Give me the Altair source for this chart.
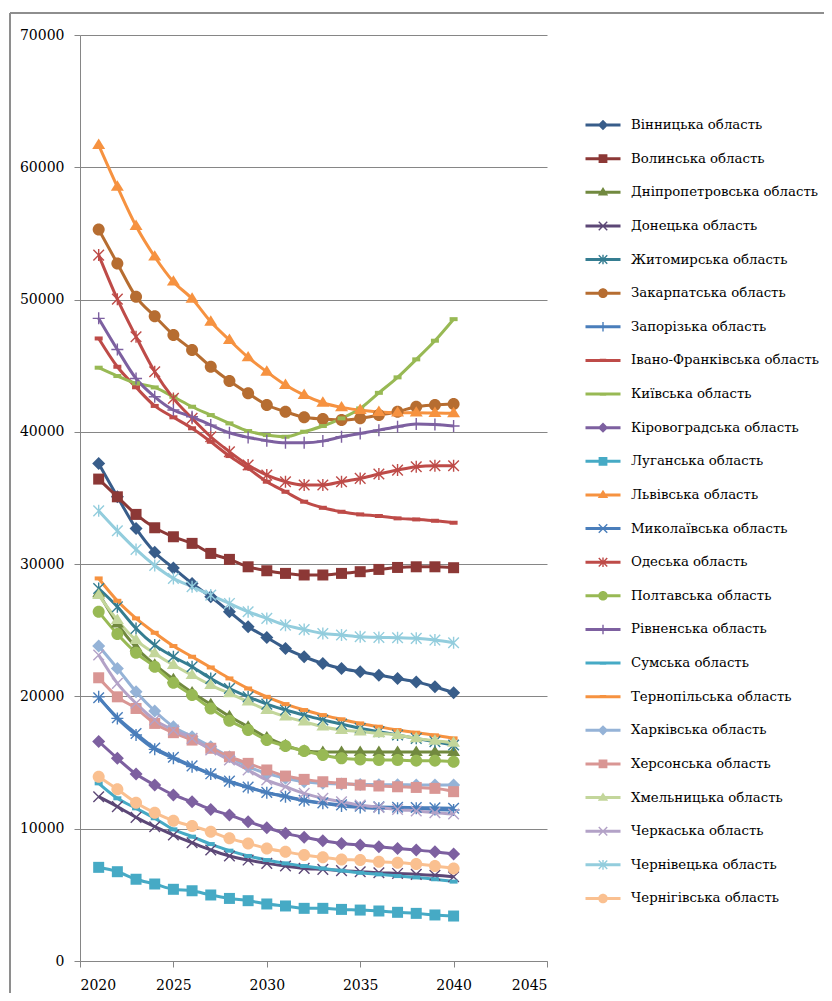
import math
import altair as alt
import pandas as pd

years = list(range(2021, 2041))

regions = [
    "Вінницька область", "Волинська область", "Дніпропетровська область",
    "Донецька область", "Житомирська область", "Закарпатська область",
    "Запорізька область", "Івано-Франківська область", "Київська область",
    "Кіровоградська область", "Луганська область", "Львівська область",
    "Миколаївська область", "Одеська область", "Полтавська область",
    "Рівненська область", "Сумська область", "Тернопільська область",
    "Харківська область", "Херсонська область", "Хмельницька область",
    "Черкаська область", "Чернівецька область", "Чернігівська область",
]

vinnytsia = [37600, 35100, 32700, 30900, 29700, 28540, 27530, 26400, 25270, 24460,
             23630, 23000, 22490, 22110, 21860, 21610, 21360, 21100, 20730, 20280]
volyn = [36430, 35090, 33760, 32750, 32070, 31570, 30810, 30360, 29800, 29500,
         29300, 29180, 29180, 29300, 29430, 29600, 29750, 29800, 29800, 29730]
dnipro = [27800, 25500, 23700, 22400, 21300, 20300, 19400, 18500, 17700, 16900,
          16300, 15900, 15800, 15800, 15800, 15800, 15800, 15800, 15800, 15800]
donetsk = [12420, 11670, 10860, 10150, 9520, 8940, 8390, 7940, 7630, 7380,
           7180, 7000, 6930, 6830, 6750, 6670, 6620, 6550, 6480, 6370]
zhytomyr = [28160, 26780, 25140, 23880, 23000, 22240, 21360, 20600, 19970, 19420,
            18970, 18590, 18220, 17910, 17590, 17340, 17080, 16830, 16580, 16330]
zakarpattia = [55300, 52730, 50210, 48740, 47320, 46180, 44920, 43840, 42910, 42030,
               41520, 41100, 40970, 40890, 41020, 41270, 41520, 41900, 42030, 42100]
zaporizhzhia = [19970, 18340, 17080, 16000, 15320, 14690, 14130, 13550, 13120, 12720,
                12420, 12110, 11920, 11720, 11610, 11540, 11540, 11540, 11460, 11410]
ivano_frankivsk = [47060, 44920, 43370, 41960, 41100, 40270, 39250, 38170, 37240, 36230,
                   35470, 34720, 34260, 33960, 33760, 33640, 33460, 33380, 33280, 33130]
kyiv = [44850, 44220, 43670, 43360, 42650, 41900, 41270, 40640, 40060, 39760,
        39630, 40010, 40440, 41020, 41770, 42950, 44120, 45480, 46890, 48520]
kirovohrad = [16600, 15320, 14130, 13300, 12550, 12040, 11460, 11030, 10530, 10080,
              9650, 9350, 9090, 8890, 8770, 8640, 8510, 8390, 8260, 8090]
luhansk = [7080, 6750, 6180, 5820, 5420, 5310, 4990, 4730, 4560, 4310,
           4160, 3980, 3980, 3900, 3850, 3780, 3680, 3600, 3480, 3400]
lviv = [61680, 58530, 55560, 53240, 51350, 50060, 48320, 46940, 45630, 44540,
        43540, 42780, 42200, 41850, 41650, 41500, 41450, 41450, 41420, 41400]
mykolaiv = [19900, 18400, 17200, 16100, 15400, 14750, 14150, 13600, 13150, 12750,
            12450, 12150, 11950, 11800, 11700, 11650, 11620, 11600, 11580, 11550]
odesa = [53360, 50030, 47190, 44540, 42530, 41020, 39630, 38500, 37490, 36730,
         36230, 35980, 35980, 36230, 36480, 36810, 37110, 37360, 37440, 37440]
poltava = [26400, 24720, 23300, 22240, 21030, 20100, 19090, 18170, 17460, 16700,
           16250, 15870, 15570, 15320, 15240, 15190, 15190, 15140, 15140, 15060]
rivne = [48580, 46230, 44030, 42650, 41650, 41140, 40510, 39930, 39580, 39330,
         39180, 39180, 39300, 39630, 39880, 40130, 40390, 40590, 40560, 40440]
sumy = [13430, 12300, 11540, 10790, 9950, 9400, 8840, 8340, 7940, 7630,
        7380, 7180, 7000, 6830, 6670, 6550, 6420, 6320, 6180, 6000]
ternopil = [28920, 27230, 25900, 24810, 23810, 23000, 22190, 21360, 20600, 19970,
            19420, 18970, 18590, 18270, 17960, 17710, 17460, 17260, 17060, 16830]
kharkiv = [23810, 22120, 20360, 18900, 17710, 16960, 16200, 15440, 14690, 14180,
           13810, 13550, 13430, 13380, 13350, 13330, 13320, 13310, 13300, 13300]
kherson = [21410, 19970, 19090, 17960, 17260, 16700, 16080, 15440, 14940, 14440,
           13980, 13730, 13550, 13430, 13300, 13230, 13170, 13120, 13050, 12800]
khmelnytskyi = [27660, 25770, 24260, 23250, 22370, 21610, 20860, 20230, 19600, 18970,
                18470, 18090, 17710, 17460, 17340, 17210, 17080, 16830, 16650, 16500]
cherkasy = [23130, 20990, 19480, 18220, 17460, 16830, 15950, 15190, 14440, 13680,
            13170, 12670, 12300, 12040, 11790, 11610, 11460, 11340, 11210, 11110]
chernivtsi = [34030, 32520, 31110, 29900, 28920, 28300, 27660, 27030, 26400, 25900,
              25390, 25060, 24760, 24640, 24510, 24460, 24440, 24390, 24260, 24060]
chernihiv = [13930, 12980, 11970, 11210, 10600, 10200, 9770, 9270, 8890, 8510,
             8260, 8010, 7840, 7680, 7630, 7510, 7430, 7330, 7180, 7000]

series_values = [vinnytsia, volyn, dnipro, donetsk, zhytomyr, zakarpattia,
                 zaporizhzhia, ivano_frankivsk, kyiv, kirovohrad, luhansk, lviv,
                 mykolaiv, odesa, poltava, rivne, sumy, ternopil,
                 kharkiv, kherson, khmelnytskyi, cherkasy, chernivtsi, chernihiv]

colors = ["#385D8A", "#8C3836", "#71893F", "#5C4776", "#357D91", "#B66D31",
          "#4A7EBB", "#BE4B48", "#98B954", "#7D60A0", "#46AAC5", "#F69240",
          "#4A7EBB", "#BE4B48", "#98B954", "#7D60A0", "#46AAC5", "#F69240",
          "#95B3D7", "#D99694", "#C3D69B", "#B3A2C7", "#93CDDD", "#FAC090"]

marker_cycle = ["diamond", "square", "triangle", "x", "star", "circle", "plus", "dash", "dash"]


def f(v):
    return f"{v:.3f}"


def bar(theta_deg, L, t):
    th = math.radians(theta_deg)
    dx, dy = math.cos(th), math.sin(th)
    nx, ny = -dy, dx
    pts = [(u * L * dx + v * t * nx, u * L * dy + v * t * ny)
           for u, v in [(-1, -1), (1, -1), (1, 1), (-1, 1)]]
    return "M" + "L".join(f"{f(px)},{f(py)}" for px, py in pts) + "Z"


def marker(kind, s):
    if kind == "diamond":
        h = 0.65 * s
        return f"M0,{f(-h)}L{f(h)},0L0,{f(h)}L{f(-h)},0Z"
    if kind == "square":
        h = 0.55 * s
        return f"M{f(-h)},{f(-h)}L{f(h)},{f(-h)}L{f(h)},{f(h)}L{f(-h)},{f(h)}Z"
    if kind == "triangle":
        h = 0.65 * s
        return f"M0,{f(-h)}L{f(h)},{f(0.6 * h)}L{f(-h)},{f(0.6 * h)}Z"
    if kind == "circle":
        h = 0.6 * s
        return (f"M{f(h)},0A{f(h)},{f(h)},0,1,1,{f(-h)},0"
                f"A{f(h)},{f(h)},0,1,1,{f(h)},0Z")
    if kind == "x":
        return bar(45, 0.75 * s, 0.07) + bar(-45, 0.75 * s, 0.07)
    if kind == "star":
        return bar(45, 0.75 * s, 0.07) + bar(-45, 0.75 * s, 0.07) + bar(90, 0.6 * s, 0.07)
    if kind == "plus":
        return bar(0, 0.6 * s, 0.07) + bar(90, 0.6 * s, 0.07)
    if kind == "dash":
        return bar(0, 0.4 * s, 0.2 * s)
    return ""


marker_paths = [marker(marker_cycle[i % 9], 1.0) for i in range(len(regions))]
legend_paths = [bar(0, 1.75, 0.15) + marker(marker_cycle[i % 9], 0.8)
                for i in range(len(regions))]

rows = []
for i, (name, vals) in enumerate(zip(regions, series_values)):
    for yr, v in zip(years, vals):
        rows.append({"region": name, "idx": i, "year": yr, "value": v})
df = pd.DataFrame(rows)

FONT = "DejaVu Serif"
W, H = 467, 926

x_enc = alt.X("year:Q", scale=alt.Scale(domain=[2020, 2045], nice=False, zero=False),
              axis=alt.Axis(values=[2020, 2025, 2030, 2035, 2040, 2045], format="d",
                            title=None, grid=False, tickSize=6, labelPadding=11,
                            labelFont=FONT))
y_enc = alt.Y("value:Q", scale=alt.Scale(domain=[0, 70000], nice=False),
              axis=alt.Axis(values=list(range(0, 70001, 10000)), format="d",
                            title=None, grid=True, tickSize=6, labelPadding=10,
                            labelFont=FONT))

lines = alt.Chart(df).mark_line(interpolate="monotone", strokeWidth=3).encode(
    x=x_enc, y=y_enc,
    color=alt.Color("region:N", scale=alt.Scale(domain=regions, range=colors), legend=None),
    order=alt.Order("year:Q"),
)

points = alt.Chart(df).mark_point(filled=True, size=400, opacity=1, strokeWidth=0).encode(
    x=x_enc, y=y_enc,
    color=alt.Color("region:N", scale=alt.Scale(domain=regions, range=colors), legend=None),
    shape=alt.Shape("region:N", scale=alt.Scale(domain=regions, range=marker_paths), legend=None),
    order=alt.Order("idx:Q"),
)

leg = alt.Legend(title=None, orient="none", legendX=513, legendY=80, direction="vertical",
                 symbolLimit=50, labelFont=FONT, labelFontSize=13.3, labelColor="black",
                 labelOffset=18, rowPadding=16.63, symbolStrokeWidth=0, symbolSize=400,
                 labelLimit=400, padding=0)

legend_layer = alt.Chart(df).transform_filter("false").mark_point(
    filled=True, size=400, opacity=1, strokeWidth=0).encode(
    x=x_enc, y=y_enc,
    color=alt.Color("region:N", scale=alt.Scale(domain=regions, range=colors), legend=leg),
    shape=alt.Shape("region:N", scale=alt.Scale(domain=regions, range=legend_paths), legend=leg),
)

frame_df = pd.DataFrame({"k": [0]})
frame_left = alt.Chart(frame_df).mark_rule(color="#8E8E8E", strokeWidth=2).encode(
    x=alt.value(-70), y=alt.value(-22), y2=alt.value(1000))
frame_top = alt.Chart(frame_df).mark_rule(color="#8E8E8E", strokeWidth=2).encode(
    x=alt.value(-70), x2=alt.value(800), y=alt.value(-22))

chart = alt.layer(frame_left, frame_top, lines, points, legend_layer).resolve_scale(
    shape="independent", color="independent"
).properties(
    width=W, height=H, autosize="none",
    padding={"left": 72, "top": 27, "right": 277, "bottom": 32},
).configure_view(stroke=None).configure_axis(
    labelFont=FONT, labelFontSize=14, labelColor="black",
    domainColor="#868686", tickColor="#868686", gridColor="#868686",
    gridWidth=1, domainWidth=1,
).configure_legend(labelFont=FONT)

chart.save("out.html", embed_options={"renderer": "svg", "actions": False})
